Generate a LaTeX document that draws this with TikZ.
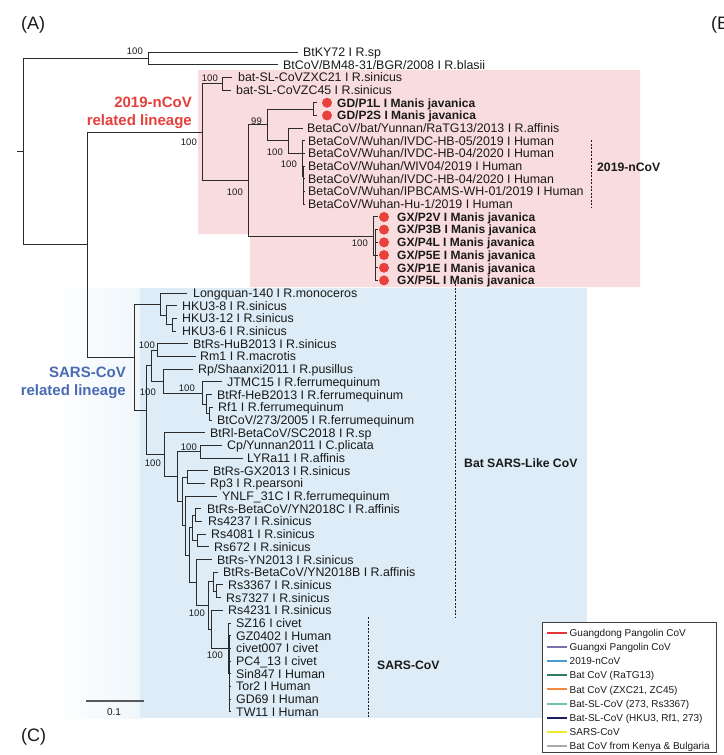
\documentclass[tikz,border=0pt]{standalone}
\usepackage{fontspec}
\setmainfont{Liberation Sans}
\usetikzlibrary{calc}
\definecolor{treeln}{HTML}{2B2B2B}
\definecolor{txt}{HTML}{1A1A1A}
\definecolor{pinkbox}{HTML}{F9DCDE}
\definecolor{bluebox}{HTML}{DDECF6}
\definecolor{redlab}{HTML}{E5403B}
\definecolor{bluelab}{HTML}{4A6BB3}
\definecolor{dotred}{HTML}{E8413C}
\definecolor{lgA}{HTML}{E0383A}
\definecolor{lgB}{HTML}{7B6FB0}
\definecolor{lgC}{HTML}{4A9BD0}
\definecolor{lgD}{HTML}{2E7D5B}
\definecolor{lgE}{HTML}{F08A3C}
\definecolor{lgF}{HTML}{6CC5B0}
\definecolor{lgG}{HTML}{1A1F5C}
\definecolor{lgH}{HTML}{F2E92A}
\definecolor{lgI}{HTML}{AAAAAA}
% leaf: index, tip x, text x, text
\newcommand\leaf[4]{%
  \coordinate (L#1) at (#2,{52+12.69*#1});
  \node[lbl] (t#1) at (#3,{56.4+12.69*#1}) {#4};}
% bold leaf with dot: index, tip x, dot x, text x, text
\newcommand\bleaf[5]{%
  \coordinate (L#1) at (#2,{52+12.69*#1});
  \node[dot] (d#1) at (#3,{52+12.69*#1}) {};
  \node[blbl] (t#1) at (#4,{56.3+12.69*#1}) {#5};}
% clade: name, x, first child, last child
\newcommand\clade[4]{%
  \path let \p1=(#3),\p2=(#4) in coordinate (#1) at (#2pt,{(\y1+\y2)/2});
  \draw[br] (#1 |- #3) -- (#1 |- #4);
  \draw[br] (#1 |- #3) -- (#3);
  \draw[br] (#1 |- #4) -- (#4);}
\newcommand\kid[2]{\draw[br] (#1 |- #2) -- (#2);}
\newcommand\legitem[3]{%
  \coordinate (ga#1) at (547,{633+14.1*#1});
  \coordinate (gb#1) at (567,{633+14.1*#1});
  \draw[draw=#2,line width=2pt] (ga#1) -- (gb#1);
  \node[leg] (gt#1) at (569.5,{636.6+14.1*#1}) {#3};}
\begin{document}
\begin{tikzpicture}[x=1pt,y=-1pt,
  br/.style={draw=treeln,line width=1pt},
  lbl/.style={anchor=base west,inner sep=0pt,font=\fontsize{12.4}{14}\selectfont,text=txt},
  blbl/.style={lbl,font=\fontsize{12}{14}\selectfont\bfseries},
  bs/.style={anchor=east,inner sep=0pt,font=\fontsize{9.5}{11}\selectfont,text=txt},
  dot/.style={circle,fill=dotred,inner sep=0pt,minimum size=10pt},
  dsh/.style={draw=txt,line width=0.8pt,dash pattern=on 2pt off 1.5pt},
  grp/.style={anchor=base west,inner sep=0pt,font=\fontsize{12.2}{14}\selectfont\bfseries,text=txt},
  lin/.style={anchor=base east,inner sep=0pt,font=\fontsize{15}{18}\selectfont\bfseries},
  pan/.style={anchor=base west,inner sep=0pt,font=\fontsize{18}{20}\selectfont,text=txt},
  leg/.style={anchor=base west,inner sep=0pt,font=\fontsize{10}{12}\selectfont,text=txt}]
\useasboundingbox (0,0) rectangle (723,755);
\fill[white] (0,0) rectangle (723,755);
% backgrounds
\fill[pinkbox] (198,70) -- (640,70) -- (640,287) -- (250,287) -- (250,234) -- (198,234) -- cycle;
\shade[left color=white,right color=bluebox!45!white] (48,288) rectangle (140,718);
\fill[bluebox] (139.5,288) rectangle (587,718);
% panel letters
\node[pan] (pA) at (21,29.5) {(A)};
\node[pan] (pC) at (21,741) {(C)};
\begin{scope}
\clip (0,0) rectangle (723,755);
\node[pan] (pB) at (711,29.5) {(B)};
\end{scope}
% leaves
\leaf{0}{298}{303}{BtKY72 I R.sp}
\leaf{1}{278}{283}{BtCoV/BM48-31/BGR/2008 I R.blasii}
\leaf{2}{232}{238}{bat-SL-CoVZXC21 I R.sinicus}
\leaf{3}{231}{236}{bat-SL-CoVZC45 I R.sinicus}
\bleaf{4}{317}{327}{337}{GD/P1L I Manis javanica}
\bleaf{5}{317}{327}{337}{GD/P2S I Manis javanica}
\leaf{6}{303}{307}{BetaCoV/bat/Yunnan/RaTG13/2013 I R.affinis}
\leaf{7}{305}{308}{BetaCoV/Wuhan/IVDC-HB-05/2019 I Human}
\leaf{8}{305}{308}{BetaCoV/Wuhan/IVDC-HB-04/2020 I Human}
\leaf{9}{305}{308}{BetaCoV/Wuhan/WIV04/2019 I Human}
\leaf{10}{305}{308}{BetaCoV/Wuhan/IVDC-HB-04/2020 I Human}
\leaf{11}{305}{308}{BetaCoV/Wuhan/IPBCAMS-WH-01/2019 I Human}
\leaf{12}{305}{308}{BetaCoV/Wuhan-Hu-1/2019 I Human}
\bleaf{13}{378}{384}{397}{GX/P2V I Manis javanica}
\bleaf{14}{378}{384}{397}{GX/P3B I Manis javanica}
\bleaf{15}{378}{384}{397}{GX/P4L I Manis javanica}
\bleaf{16}{378}{384}{397}{GX/P5E I Manis javanica}
\bleaf{17}{378}{384}{397}{GX/P1E I Manis javanica}
\bleaf{18}{378}{384}{397}{GX/P5L I Manis javanica}
\leaf{19}{187}{193}{Longquan-140 I R.monoceros}
\leaf{20}{177}{182}{HKU3-8 I R.sinicus}
\leaf{21}{177}{182}{HKU3-12 I R.sinicus}
\leaf{22}{176}{182}{HKU3-6 I R.sinicus}
\leaf{23}{188}{193}{BtRs-HuB2013 I R.sinicus}
\leaf{24}{196}{200}{Rm1 I R.macrotis}
\leaf{25}{193}{198}{Rp/Shaanxi2011 I R.pusillus}
\leaf{26}{222}{227}{JTMC15 I R.ferrumequinum}
\leaf{27}{212}{217}{BtRf-HeB2013 I R.ferrumequinum}
\leaf{28}{213}{218}{Rf1 I R.ferrumequinum}
\leaf{29}{212}{217}{BtCoV/273/2005 I R.ferrumequinum}
\leaf{30}{205}{210}{BtRl-BetaCoV/SC2018 I R.sp}
\leaf{31}{222}{227}{Cp/Yunnan2011 I C.plicata}
\leaf{32}{243}{247}{LYRa11 I R.affinis}
\leaf{33}{208}{213}{BtRs-GX2013 I R.sinicus}
\leaf{34}{205}{210}{Rp3 I R.pearsoni}
\leaf{35}{217}{222}{YNLF\_31C I R.ferrumequinum}
\leaf{36}{201}{207}{BtRs-BetaCoV/YN2018C I R.affinis}
\leaf{37}{202}{208}{Rs4237 I R.sinicus}
\leaf{38}{206}{211}{Rs4081 I R.sinicus}
\leaf{39}{209}{214}{Rs672 I R.sinicus}
\leaf{40}{212}{217}{BtRs-YN2013 I R.sinicus}
\leaf{41}{218}{223}{BtRs-BetaCoV/YN2018B I R.affinis}
\leaf{42}{223}{228}{Rs3367 I R.sinicus}
\leaf{43}{221}{226}{Rs7327 I R.sinicus}
\leaf{44}{223}{228}{Rs4231 I R.sinicus}
\leaf{45}{231}{236}{SZ16 I civet}
\leaf{46}{231}{236}{GZ0402 I Human}
\leaf{47}{231}{236}{civet007 I civet}
\leaf{48}{231}{236}{PC4\_13 I civet}
\leaf{49}{231}{236}{Sin847 I Human}
\leaf{50}{231}{236}{Tor2 I Human}
\leaf{51}{231}{236}{GD69 I Human}
\leaf{52}{231}{236}{TW11 I Human}
% internal nodes, bottom-up
\clade{cTop}{148}{L0}{L1}
\clade{cZ}{222}{L2}{L3}
\clade{cGD}{313}{L4}{L5}
\clade{cH5}{303}{L11}{L12}
\clade{cH4}{303}{L10}{cH5}
\clade{cH3}{303}{L9}{cH4}
\clade{cH2}{302.5}{L8}{cH3}
\clade{cE}{302}{L7}{cH2}
\clade{cD}{288}{L6}{cE}
\clade{cC}{267}{cGD}{cD}
\clade{cG2}{375}{L14}{L18}
\kid{cG2}{L15}\kid{cG2}{L16}\kid{cG2}{L17}
\clade{cG}{373}{L13}{cG2}
\clade{cB}{248}{cC}{cG}
\clade{cA}{202}{cZ}{cB}
\clade{cHK2}{172}{L21}{L22}
\clade{cHK}{166}{L20}{cHK2}
\clade{cHH}{160}{L19}{cHK}
\clade{cP23}{157}{L23}{L24}
\clade{cW3}{209}{L28}{L29}
\clade{cW2}{206}{L27}{cW3}
\clade{cW}{202}{L26}{cW2}
\clade{cV}{163}{L25}{cW}
\clade{cT}{151}{cP23}{cV}
\clade{cP31}{200}{L31}{L32}
\clade{cP33}{187}{L33}{L34}
\clade{cA1}{195}{L36}{L37}
\clade{cA2}{197}{L38}{L39}
\clade{cQ1}{192}{cA1}{cA2}
\clade{cP42}{216}{L42}{L43}
\clade{cN41}{213}{L41}{cP42}
\clade{cS2}{229}{L46}{L52}
\kid{cS2}{L47}\kid{cS2}{L48}\kid{cS2}{L49}\kid{cS2}{L50}\kid{cS2}{L51}
\clade{cS1}{228}{L45}{cS2}
\clade{cN44}{211}{L44}{cS1}
\clade{cN41b}{208}{cN41}{cN44}
\clade{cN40}{196}{L40}{cN41b}
\clade{cN36}{189}{cQ1}{cN40}
\clade{cN35}{185}{L35}{cN36}
\clade{cN33}{182}{cP33}{cN35}
\clade{cN31}{177}{cP31}{cN33}
\clade{cU1}{164}{L30}{cN31}
\clade{cR}{146}{cT}{cU1}
\clade{cS}{134}{cHH}{cR}
\clade{c87}{87}{cA}{cS}
\clade{cRoot}{23}{cTop}{c87}
\coordinate (rootstub) at (17,0);
\draw[br] (rootstub |- cRoot) -- (cRoot);
% bootstrap labels
\node[bs] (b1) at (143,51) {100};
\node[bs] (b2) at (218,78) {100};
\node[bs] (b3) at (197,142) {100};
\node[bs] (b4) at (262,121) {99};
\node[bs] (b5) at (283,152) {100};
\node[bs] (b6) at (297,164) {100};
\node[bs] (b7) at (243,192) {100};
\node[bs] (b8) at (368,243) {100};
\node[bs] (b9) at (155,345) {100};
\node[bs] (b10) at (156,392) {100};
\node[bs] (b11) at (195,388) {100};
\node[bs] (b12) at (161,463) {100};
\node[bs] (b13) at (197,447) {100};
\node[bs] (b14) at (205,613) {100};
\node[bs] (b15) at (223,655) {100};
% lineage labels
\node[lin,text=redlab] (r1) at (192,107.4) {2019-nCoV};
\node[lin,text=redlab] (r2) at (192,125.4) {related lineage};
\node[lin,text=bluelab] (s1) at (126,377.4) {SARS-CoV};
\node[lin,text=bluelab] (s2) at (126,395.4) {related lineage};
% group brackets
\coordinate (g1a) at (591,140); \coordinate (g1b) at (591,207);
\draw[dsh] (g1a) -- (g1b);
\node[grp] (g1) at (597,171.3) {2019-nCoV};
\coordinate (g2a) at (455,284); \coordinate (g2b) at (455,617);
\draw[dsh] (g2a) -- (g2b);
\node[grp] (g2) at (464,467.3) {Bat SARS-Like CoV};
\coordinate (g3a) at (368,617); \coordinate (g3b) at (368,718);
\draw[dsh] (g3a) -- (g3b);
\node[grp] (g3) at (377,669.3) {SARS-CoV};
% scale bar
\coordinate (sb1) at (86,701); \coordinate (sb2) at (144,701);
\draw[draw=black!65,line width=1.2pt] (sb1) -- (sb2);
\node[inner sep=0pt,font=\fontsize{10}{12}\selectfont,text=txt] (sbt) at (114,712) {0.1};
% legend
\draw[draw=black!75,fill=white,line width=0.7pt] (542,622) rectangle (716,752);
\legitem{0}{lgA}{Guangdong Pangolin CoV}
\legitem{1}{lgB}{Guangxi Pangolin CoV}
\legitem{2}{lgC}{2019-nCoV}
\legitem{3}{lgD}{Bat CoV (RaTG13)}
\legitem{4}{lgE}{Bat CoV (ZXC21, ZC45)}
\legitem{5}{lgF}{Bat-SL-CoV (273, Rs3367)}
\legitem{6}{lgG}{Bat-SL-CoV (HKU3, Rf1, 273)}
\legitem{7}{lgH}{SARS-CoV}
\legitem{8}{lgI}{Bat CoV from Kenya \& Bulgaria}
\end{tikzpicture}
\end{document}
